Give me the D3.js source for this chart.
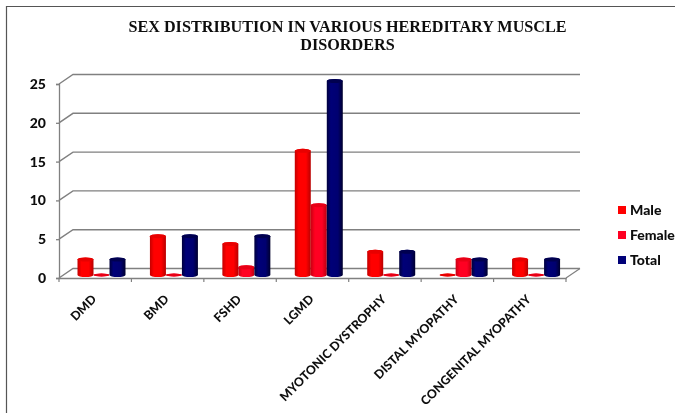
<!DOCTYPE html>
<html>
<head>
<meta charset="utf-8">
<script src="https://cdn.jsdelivr.net/npm/d3@7"></script>
<style>
  html, body { margin: 0; background: #fff; }
  svg { display: block; }
  .title { font: bold 16.2px "Liberation Serif", serif; fill: #111; text-anchor: middle; }
  .axis text { font: 900 14px Lato, sans-serif; fill: #111; }
  .cat text { font-size: 12.3px; font-weight: 900; }
  .legend text { font: 900 14px Lato, sans-serif; fill: #111; }
</style>
</head>
<body>
<svg id="chart" width="675" height="413"></svg>
<script>
/* ------------------------------- data -------------------------------- */
const categories = ['DMD', 'BMD', 'FSHD', 'LGMD', 'MYOTONIC DYSTROPHY', 'DISTAL MYOPATHY', 'CONGENITAL MYOPATHY'];
const seriesNames = ['Male', 'Female', 'Total'];
const male   = [2, 5, 4, 16, 3, 0, 2];
const female = [0, 0, 1, 9, 0, 2, 0];
const total  = [2, 5, 5, 25, 3, 2, 2];
const yTicks = [0, 5, 10, 15, 20, 25];
const titleLines = ['SEX DISTRIBUTION IN VARIOUS HEREDITARY MUSCLE', 'DISORDERS'];

/* ------------------------------- setup ------------------------------- */
const svg = d3.select('#chart');
const DEPTH_X = 14, DEPTH_Y = 9.5;   // fake 3d offset of the back wall
const BAR_DX = 6.5, BAR_DY = 3;      // bars stand half way into the floor
const AXIS_GREY = '#808080';

const x = d3.scaleBand().domain(categories).range([59, 566]);
const xInner = d3.scaleBand().domain(seriesNames).range([12, 60]);
const y = d3.scaleLinear().domain([0, 25]).range([278, 84]);

const colors = {
  Male:   ['#c40000', '#ff0000', '#ff0000', '#b80000', '#e80000'],
  Female: ['#c80014', '#ff0020', '#ff0424', '#bb0010', '#e80018'],
  Total:  ['#00003c', '#000078', '#000070', '#00002e', '#000050']
};

const defs = svg.append('defs');
seriesNames.forEach(name => {
  const c = colors[name];
  const g = defs.append('linearGradient').attr('id', 'grad' + name);
  g.append('stop').attr('offset', '0%').attr('stop-color', c[0]);
  g.append('stop').attr('offset', '25%').attr('stop-color', c[1]);
  g.append('stop').attr('offset', '70%').attr('stop-color', c[2]);
  g.append('stop').attr('offset', '100%').attr('stop-color', c[3]);
});
defs.append('filter').attr('id', 'soft')
  .append('feGaussianBlur').attr('stdDeviation', 0.4);

/* ------------------------------- frame & title ----------------------- */
svg.append('path')
  .attr('d', d3.line()([[6.5, 413], [6.5, 6.5], [675, 6.5]]))
  .attr('fill', 'none').attr('stroke', '#555').attr('stroke-width', 1.2);

svg.append('g').attr('filter', 'url(#soft)')
  .selectAll('.title').data(titleLines).enter().append('text')
  .attr('class', 'title')
  .attr('x', 347.5)
  .attr('y', (d, i) => 32 + i * 18)
  .text(d => d);

/* ------------------------------- walls & axes ------------------------ */
const plot = svg.append('g').attr('filter', 'url(#soft)');

yTicks.forEach(t => {
  plot.append('path')
    .attr('d', d3.line()([[59, y(t)], [59 + DEPTH_X, y(t) - DEPTH_Y], [566 + DEPTH_X, y(t) - DEPTH_Y]]))
    .attr('fill', 'none').attr('stroke', AXIS_GREY).attr('stroke-width', 1.4);
});
// floor, right hand edge
plot.append('path')
  .attr('d', d3.line()([[566, y(0)], [566 + DEPTH_X, y(0) - DEPTH_Y]]))
  .attr('fill', 'none').attr('stroke', AXIS_GREY).attr('stroke-width', 1.2);

const yAxisG = plot.append('g').attr('class', 'axis')
  .attr('transform', 'translate(59,0)')
  .call(d3.axisLeft(y).tickValues(yTicks).tickSize(3).tickPadding(10));
yAxisG.selectAll('path,line').attr('stroke', AXIS_GREY).attr('stroke-width', 1.3);

const xAxisG = plot.append('g').attr('class', 'axis cat')
  .attr('transform', `translate(0,${y(0)})`)
  .call(d3.axisBottom(x).tickSize(0).tickPadding(0));
xAxisG.select('.domain').attr('stroke', AXIS_GREY).attr('stroke-width', 1.4);
xAxisG.selectAll('.tick text')
  .attr('text-anchor', 'end')
  .attr('dy', 0)
  .attr('transform', 'translate(2,22) rotate(-45)');

// ticks sit on the band edges, not on the labels
xAxisG.selectAll('.edge')
  .data(categories.map(c => x(c)).concat(x.range()[1]))
  .enter().append('line')
  .attr('x1', d => d).attr('x2', d => d)
  .attr('y1', 0).attr('y2', 4)
  .attr('stroke', AXIS_GREY).attr('stroke-width', 1.2);

/* ------------------------------- cylinders --------------------------- */
const rows = [];
categories.forEach((cat, i) => {
  rows.push({cat, name: 'Male', value: male[i]});
  rows.push({cat, name: 'Female', value: female[i]});
  rows.push({cat, name: 'Total', value: total[i]});
});

const capRy = d => d.value === 0 ? 1.4 : 2;

function cylinderPath(d) {
  const w = xInner.bandwidth();
  const x0 = x(d.cat) + xInner(d.name) + BAR_DX;
  const base = y(0) - BAR_DY, top = y(d.value) - BAR_DY;
  const rx = w / 2, ry = capRy(d);
  return `M${x0},${top}V${base}A${rx},${ry} 0 0 0 ${x0 + w},${base}V${top}A${rx},${ry} 0 0 0 ${x0},${top}Z`;
}

const bars = plot.selectAll('.bar').data(rows).enter().append('g').attr('class', 'bar');
bars.append('path')
  .attr('d', cylinderPath)
  .attr('fill', d => `url(#grad${d.name})`);
bars.append('ellipse')
  .attr('cx', d => x(d.cat) + xInner(d.name) + BAR_DX + xInner.bandwidth() / 2)
  .attr('cy', d => y(d.value) - BAR_DY)
  .attr('rx', xInner.bandwidth() / 2)
  .attr('ry', capRy)
  .attr('fill', d => colors[d.name][4]);

/* ------------------------------- legend ------------------------------ */
const legend = svg.append('g').attr('class', 'legend').attr('filter', 'url(#soft)')
  .selectAll('g').data(seriesNames).enter().append('g')
  .attr('transform', (d, i) => `translate(618,${210 + i * 25})`);
legend.append('rect')
  .attr('x', 0).attr('y', -4).attr('width', 8).attr('height', 8)
  .attr('fill', d => colors[d][1]);
legend.append('text')
  .attr('x', 12).attr('y', 4.5)
  .text(d => d);
</script>
</body>
</html>
